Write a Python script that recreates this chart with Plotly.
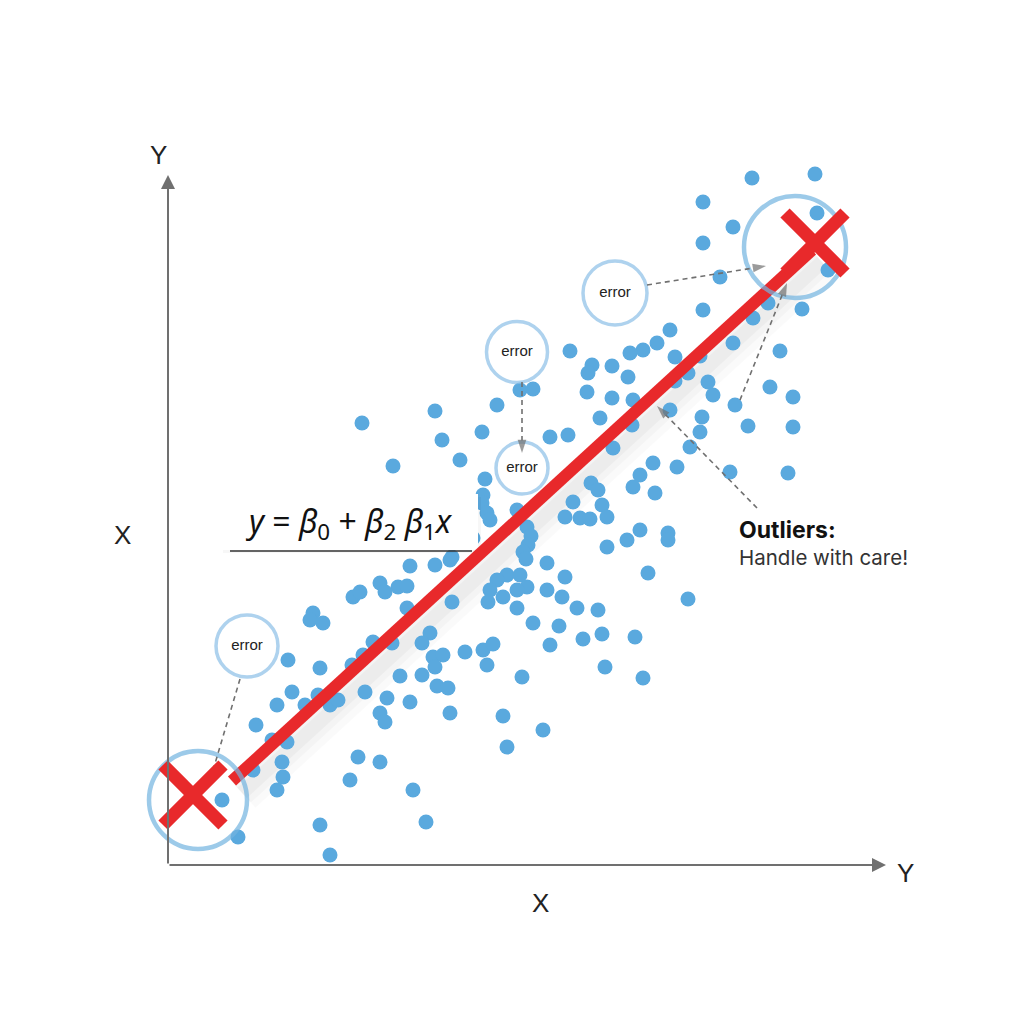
import plotly.graph_objects as go

# ---- data (1 unit = 1 px, origin at the axis corner) ----
pts_x = [584, 647, 535, 565, 649, 535, 552, 660, 535, 600, 585, 634, 502, 489, 475, 462, 507, 532, 565, 612,
         424, 444, 460, 420, 520, 507, 540, 545, 602, 625, 419, 444, 465, 567, 502, 534, 402, 352, 365, 267,
         329, 432, 274, 314, 382, 400, 292, 225, 445, 317, 423, 430, 315, 314, 319, 322, 405, 397, 412, 422,
         434, 439, 349, 359, 363, 360, 355, 358, 305, 284, 242, 267, 379, 439, 459, 339, 352, 532, 485, 509,
         562, 472, 465, 487, 464, 522, 580, 625, 620, 472, 500, 500, 480, 520, 467, 475, 397, 379, 394, 409,
         430, 329, 322, 359, 349, 320, 349, 284, 282, 212, 230, 239, 239, 335, 365, 391, 382, 415, 434, 437,
         262, 254, 224, 297, 315, 325, 265, 275, 267, 319, 232, 254, 269, 280, 354, 219, 242, 212, 217, 282,
         335, 375, 339, 212, 245, 258, 217, 185, 192, 145, 142, 155, 120, 152, 184, 195, 205, 124, 109, 137,
         150, 162, 170, 197, 88, 104, 119, 85, 114, 115, 109, 190, 182, 54, 70, 152, 162, 194]
pts_y = [687, 691, 663, 638, 652, 622, 588, 595, 555, 562, 547, 556, 535, 522, 515, 512, 508, 509, 522, 514,
         500, 499, 488, 492, 492, 484, 483, 470, 478, 468, 473, 467, 465, 460, 455, 448, 514, 475, 476, 454,
         460, 447, 425, 433, 428, 430, 405, 399, 417, 386, 382, 375, 370, 362, 352, 345, 363, 348, 347, 346,
         360, 348, 355, 338, 329, 320, 313, 306, 327, 308, 299, 300, 302, 318, 325, 290, 290, 433, 402, 398,
         393, 390, 378, 372, 440, 418, 439, 438, 392, 335, 332, 325, 292, 266, 228, 187, 288, 275, 268, 257,
         255, 285, 275, 278, 275, 263, 257, 263, 305, 282, 278, 279, 257, 268, 242, 239, 220, 226, 231, 198,
         232, 222, 222, 213, 215, 221, 208, 210, 198, 200, 189, 190, 179, 177, 188, 167, 163, 152, 143, 152,
         149, 135, 118, 103, 75, 43, 273, 268, 273, 252, 245, 242, 205, 197, 200, 210, 223, 173, 160, 160,
         170, 160, 165, 173, 140, 125, 123, 95, 103, 88, 75, 108, 85, 65, 28, 40, 10, 442]

fit_x = [64, 644]
fit_y = [84, 615]

outlier_x = [25, 647]
outlier_y = [70, 622]

ring_x = [30, 627]
ring_y = [65, 618]

err_x = [447, 349, 354, 79]
err_y = [572, 513, 397, 219]
err_labels = ["error", "error", "error", "error"]

arrow_tail_x = [479, 572, 354, 589, 72]
arrow_tail_y = [580, 465, 483, 357, 186]
arrow_tip_x = [598, 619, 354, 489, 46]
arrow_tip_y = [599, 582, 412, 459, 98]
arrow_has_head = [True, True, True, True, False]

equation = "<i>y</i> = <i>β</i><sub>0</sub> + <i>β</i><sub>2</sub> <i>β</i><sub>1</sub><i>x</i>"

RED = "#e8292b"
BLUE = "#5aa9de"
RING = "#72b3e0"
GRAY = "#707070"

fig = go.Figure()

# soft shadow under the regression line
for w, a in [(40, 0.018), (26, 0.022), (14, 0.03)]:
    fig.add_trace(go.Scatter(x=[v + 10 for v in fit_x], y=[v - 12 for v in fit_y], mode="lines",
                             line=dict(color=f"rgba(0,0,0,{a})", width=w), hoverinfo="skip", showlegend=False))

# data points
fig.add_trace(go.Scatter(x=pts_x, y=pts_y, mode="markers",
                         marker=dict(size=15, color=BLUE, line=dict(width=0)),
                         showlegend=False))

# equation box
bx0, bx1, by0, by1 = 52, 310, 315, 371
fig.add_trace(go.Scatter(x=[bx0 + 3, bx1 + 3, bx1 + 3, bx0 + 3, bx0 + 3], y=[by0 - 3, by0 - 3, by1 - 3, by1 - 3, by0 - 3],
                         fill="toself", fillcolor="rgba(0,0,0,0.03)", mode="lines", line=dict(width=0),
                         hoverinfo="skip", showlegend=False))
fig.add_trace(go.Scatter(x=[bx0, bx1, bx1, bx0, bx0], y=[by0, by0, by1, by1, by0],
                         fill="toself", fillcolor="white", mode="lines", line=dict(width=0),
                         hoverinfo="skip", showlegend=False))
fig.add_trace(go.Scatter(x=[62, 304], y=[314, 314], mode="lines",
                         line=dict(color="#333333", width=1.5), hoverinfo="skip", showlegend=False))

# regression line
fig.add_trace(go.Scatter(x=fit_x, y=fit_y, mode="lines", line=dict(color=RED, width=12),
                         showlegend=False))

# outlier rings
fig.add_trace(go.Scatter(x=ring_x, y=ring_y, mode="markers",
                         marker=dict(symbol="circle-open", size=[98, 102], color=RING,
                                     line=dict(width=4.5, color=RING)),
                         hoverinfo="skip", showlegend=False))

# error bubbles
fig.add_trace(go.Scatter(x=err_x, y=err_y, mode="markers+text", text=err_labels,
                         textposition="middle center",
                         textfont=dict(family="Liberation Sans", size=15, color="#222222"),
                         marker=dict(symbol="circle", size=[64, 61, 52, 62], color="white",
                                     line=dict(width=3.5, color="#8cc0e8")),
                         hoverinfo="skip", showlegend=False))

# dashed arrows
for tx, ty, hx, hy, head in zip(arrow_tail_x, arrow_tail_y, arrow_tip_x, arrow_tip_y, arrow_has_head):
    fig.add_trace(go.Scatter(x=[tx, hx], y=[ty, hy], mode="lines+markers",
                             line=dict(color=GRAY, width=1.6, dash="5px,4px"),
                             marker=dict(symbol=["circle", "arrow"], size=[0, 14 if head else 0],
                                         angleref="previous", color=GRAY, line=dict(width=0)),
                             hoverinfo="skip", showlegend=False))

# red X marks on outliers
h = 30
for cx, cy in zip(outlier_x, outlier_y):
    fig.add_trace(go.Scatter(x=[cx - h, cx + h, None, cx - h, cx + h],
                             y=[cy + h, cy - h, None, cy - h, cy + h],
                             mode="lines", line=dict(color=RED, width=13),
                             hoverinfo="skip", showlegend=False))

annotations = [
    # axes with arrowheads
    dict(x=0, y=690, ax=0, ay=0, xref="x", yref="y", axref="x", ayref="y", text="",
         showarrow=True, arrowhead=2, arrowsize=1.4, arrowwidth=2, arrowcolor=GRAY),
    dict(x=718, y=0, ax=0, ay=0, xref="x", yref="y", axref="x", ayref="y", text="",
         showarrow=True, arrowhead=2, arrowsize=1.4, arrowwidth=2, arrowcolor=GRAY),
    # axis labels
    dict(x=-10, y=710, text="Y", showarrow=False, font=dict(family="Liberation Sans", size=26, color="#222")),
    dict(x=737, y=-8, text="Y", showarrow=False, font=dict(family="Liberation Sans", size=26, color="#222")),
    dict(x=372, y=-38, text="X", showarrow=False, font=dict(family="Liberation Sans", size=26, color="#222")),
    dict(x=-46, y=330, text="X", showarrow=False, font=dict(family="Liberation Sans", size=26, color="#222")),
    # equation
    dict(x=181, y=342, text=equation, showarrow=False,
         font=dict(family="Noto Sans", size=32, color="#111")),
    # outliers note
    dict(x=569, y=335, text="<b>Outliers:</b>", showarrow=False, xanchor="left",
         font=dict(family="Inter", size=23, color="#111")),
    dict(x=569, y=308, text="Handle with care!", showarrow=False, xanchor="left",
         font=dict(family="Inter", size=20.5, color="#333")),
]

# the page body adds an 8 px offset; shift the ranges so the drawing lands where the reference has it
fig.update_layout(
    width=1024, height=1024, autosize=False,
    margin=dict(l=0, r=0, t=0, b=0),
    paper_bgcolor="white", plot_bgcolor="white",
    xaxis=dict(range=[-160, 864], visible=False, fixedrange=True),
    yaxis=dict(range=[-167, 857], visible=False, fixedrange=True),
    annotations=annotations,
    showlegend=False,
)

fig.write_html("out.html")
